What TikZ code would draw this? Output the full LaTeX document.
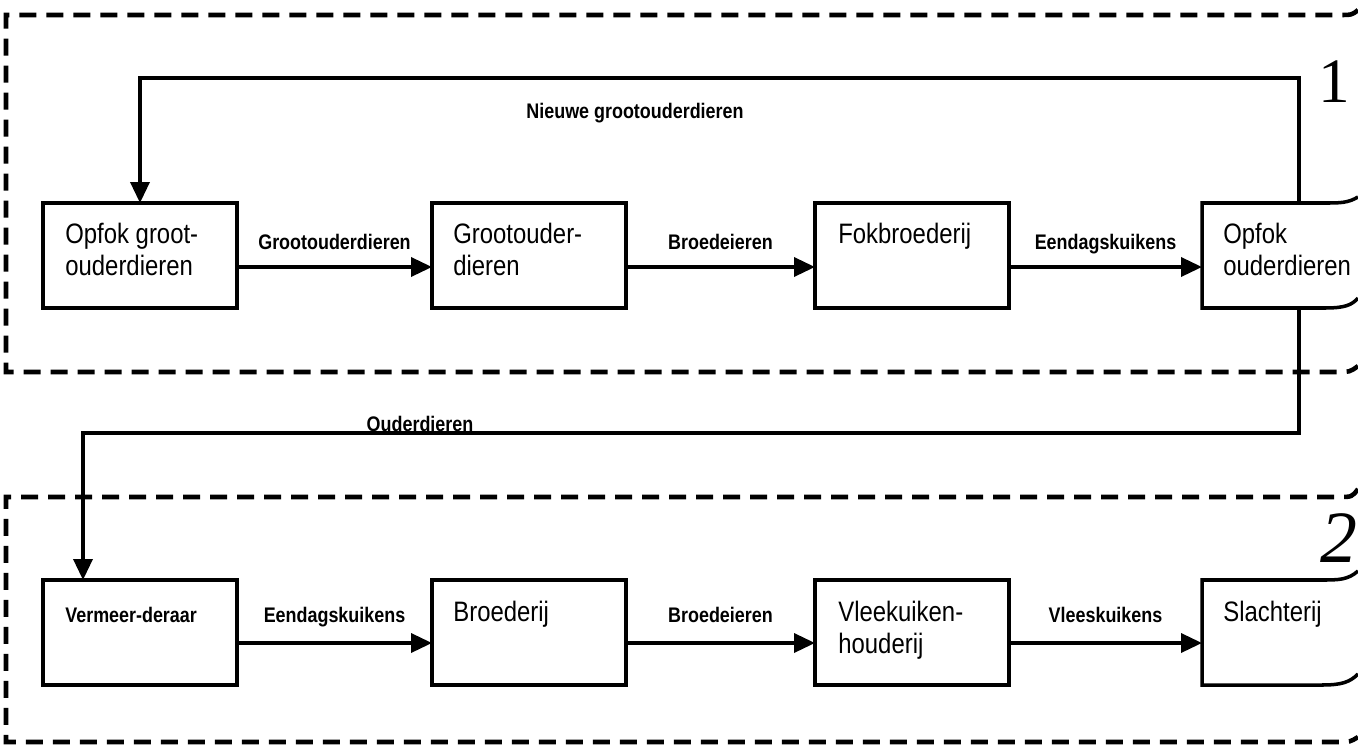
\documentclass[tikz,border=0pt]{standalone}
\usepackage{fontspec}
\setmainfont{Liberation Sans}
\newfontfamily\boxfont{Liberation Sans}[FakeStretch=0.85]
\newfontfamily\labfont{Liberation Sans}[FakeStretch=0.85]
\newfontfamily\numfont{Liberation Serif}
\usetikzlibrary{arrows.meta,calc}

\begin{document}
\begin{tikzpicture}[x=0.2mm,y=-0.2mm,
  frame/.style={line width=2.6pt, dash pattern=on 3.4mm off 2mm},
  stage/.style={draw, line width=2pt, minimum width=38.8mm, minimum height=21mm,
    inner sep=0pt, outer sep=0pt, anchor=north west},
  openstage/.style={stage, draw=none},
  outline/.style={line width=2pt},
  stagetext/.style={font={\boxfont\fontsize{16}{18.2}\selectfont}, align=left,
    inner sep=0pt, anchor=north west},
  flow/.style={line width=2pt, -{Triangle[length=4.2mm,width=3.8mm]}},
  lab/.style={font={\labfont\bfseries\fontsize{12}{14}\selectfont}, inner sep=0pt, anchor=base},
  labup/.style={lab, yshift=3.5mm},
  labuptwo/.style={lab, yshift=4.2mm},
]
\useasboundingbox (0,0) rectangle (1358,747);
\clip (0,0) rectangle (1358,747);

% dashed frames of the two parts
\draw[frame] (1358,10) .. controls (1352,15) .. (1338,15) -- (6,15) -- (6,372)
  -- (1335,372) .. controls (1350,372) .. (1358,366);
\draw[frame] (1358,489) .. controls (1352,497) .. (1338,497) -- (6,497) -- (6,742)
  -- (1338,742) .. controls (1350,742) .. (1358,737);

% part numbers
\node[font={\numfont\fontsize{36}{38}\selectfont}, inner sep=0pt] (n1) at (1334,82) {1};
\node[font={\numfont\itshape\fontsize{42}{44}\selectfont}, inner sep=0pt] (n2) at (1339,538) {2};

% stages, first part
\node[stage] (gp) at (43,203) {};
\node[stage] (gd) at (432,203) {};
\node[stage] (fb) at (815,203) {};
\node[openstage] (po) at (1202,203) {};
\draw[outline] (1358,197) .. controls (1348,203) and (1340,203) .. (1325,203)
  -- (po.north west) -- (po.south west) -- (1325,308)
  .. controls (1345,308) and (1352,305) .. (1358,298);

\node[stagetext] (gpt) at ($(gp.north west)+(22,20)$) {Opfok groot-\\ouderdieren};
\node[stagetext] (gdt) at ($(gd.north west)+(21,20)$) {Grootouder-\\dieren};
\node[stagetext] (fbt) at ($(fb.north west)+(23,20)$) {Fokbroederij};
\node[stagetext] (pot) at ($(po.north west)+(21,20)$) {Opfok\\ouderdieren};

% stages, second part
\node[stage] (vm) at (43,580) {};
\node[stage] (br) at (432,580) {};
\node[stage] (vk) at (815,580) {};
\node[openstage] (sl) at (1202,580) {};
\draw[outline] (1358,571) .. controls (1348,580) and (1338,580) .. (1322,580)
  -- (sl.north west) -- (sl.south west) -- (1322,685)
  .. controls (1342,685) and (1350,682) .. (1358,674);

\node[lab, anchor=base west] (vmt) at ($(vm.north west)+(22,42)$) {Vermeer-deraar};
\node[stagetext] (brt) at ($(br.north west)+(21,21)$) {Broederij};
\node[stagetext] (vkt) at ($(vk.north west)+(23,21)$) {Vleekuiken-\\houderij};
\node[stagetext] (slt) at ($(sl.north west)+(21,21)$) {Slachterij};

% flows, first part
\draw[flow] ([yshift=-2.3mm]gp.east) -- node[labup] {Grootouderdieren} ([yshift=-2.3mm]gd.west);
\draw[flow] ([yshift=-2.3mm]gd.east) -- node[labup] {Broedeieren} ([yshift=-2.3mm]fb.west);
\draw[flow] ([yshift=-2.3mm]fb.east) -- node[labup] {Eendagskuikens} ([yshift=-2.3mm]po.west);

% return loop of new grandparent stock
\coordinate (loopy) at (0,78);
\draw[flow] (po.north) -- (po.north |- loopy) -| (gp.north);
\node[lab] (nl) at (635,118) {Nieuwe grootouderdieren};

% parent stock to the second part
\coordinate (midy) at (0,433);
\draw[flow] (po.south) -- (po.south |- midy) -| ([xshift=-11.4mm]vm.north);
\node[lab] (ol) at (420,431) {Ouderdieren};

% flows, second part
\draw[flow] ([yshift=-2.1mm]vm.east) -- node[labuptwo] {Eendagskuikens} ([yshift=-2.1mm]br.west);
\draw[flow] ([yshift=-2.1mm]br.east) -- node[labuptwo] {Broedeieren} ([yshift=-2.1mm]vk.west);
\draw[flow] ([yshift=-2.1mm]vk.east) -- node[labuptwo] {Vleeskuikens} ([yshift=-2.1mm]sl.west);
\end{tikzpicture}
\end{document}
